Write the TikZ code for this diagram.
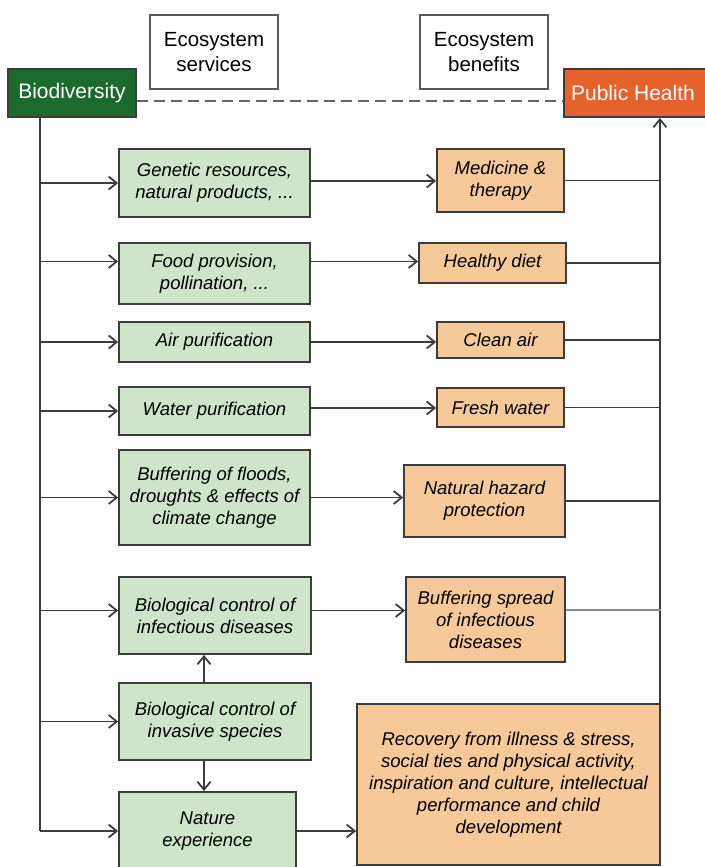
\documentclass[tikz,border=0pt]{standalone}
\usepackage{fontspec}
\setmainfont{Liberation Sans}
\usetikzlibrary{arrows.meta}
\definecolor{gfill}{HTML}{CFE5C9}
\definecolor{ofill}{HTML}{F6C999}
\definecolor{dgreen}{HTML}{1C6B2E}
\definecolor{porange}{HTML}{E5622B}
\definecolor{lcol}{HTML}{3C3C3C}
\tikzset{
  box/.style={draw=lcol, line width=1.8pt, inner sep=0pt, align=center,
    font=\fontsize{18.5}{22}\selectfont\itshape},
  gbox/.style={box, fill=gfill},
  obox/.style={box, fill=ofill},
  hbox/.style={draw=black!65, line width=1.4pt, fill=white, inner sep=0pt, align=center,
    font=\fontsize{20.5}{25}\selectfont},
  mainbox/.style={draw=lcol, line width=1.8pt, inner sep=0pt, align=center, text=white,
    font=\fontsize{21}{25}\selectfont},
  conn/.style={draw=lcol, line width=1.8pt},
  arr/.style={conn, -{Straight Barb[length=8pt,width=13pt,line width=1.8pt]}},
}
\begin{document}
\begin{tikzpicture}[x=1pt,y=-1pt]
\useasboundingbox (0,0) rectangle (704,867);
% header
\node[mainbox, fill=dgreen, minimum width=128pt, minimum height=48pt] (bio) at (72,93) {Biodiversity};
\node[mainbox, fill=porange, minimum width=144pt, minimum height=48pt] (ph) at (636,93) {\hspace*{-6pt}Public Health};
\node[hbox, minimum width=128pt, minimum height=74pt] (es) at (214,52) {Ecosystem\\services};
\node[hbox, minimum width=128pt, minimum height=74pt] (eb) at (484,52) {Ecosystem\\benefits};
% services
\node[gbox, minimum width=191pt, minimum height=68pt] (g1) at (214.5,183) {Genetic resources,\\natural products, ...};
\node[gbox, minimum width=191pt, minimum height=61pt] (g2) at (214.5,273.5) {Food provision,\\pollination, ...};
\node[gbox, minimum width=191pt, minimum height=40pt] (g3) at (214.5,342) {Air purification};
\node[gbox, minimum width=191pt, minimum height=48pt] (g4) at (214.5,411) {Water purification};
\node[gbox, minimum width=191pt, minimum height=95pt] (g5) at (214.5,497.5) {Buffering of floods,\\droughts \& effects of\\climate change};
\node[gbox, minimum width=192pt, minimum height=77pt] (g6) at (215,615.5) {Biological control of\\infectious diseases};
\node[gbox, minimum width=192pt, minimum height=77pt] (g7) at (215,721.5) {Biological control of\\invasive species};
\node[gbox, minimum width=177pt, minimum height=78pt] (g8) at (207.5,831) {Nature\\experience};
% benefits
\node[obox, minimum width=127pt, minimum height=63pt] (o1) at (500.5,180.5) {Medicine \&\\therapy};
\node[obox, minimum width=147pt, minimum height=40pt] (o2) at (492.5,263) {Healthy diet};
\node[obox, minimum width=127pt, minimum height=36pt] (o3) at (500.5,340) {Clean air};
\node[obox, minimum width=127pt, minimum height=39pt] (o4) at (500.5,407.5) {Fresh water};
\node[obox, minimum width=161pt, minimum height=72pt] (o5) at (484.5,501) {Natural hazard\\protection};
\node[obox, minimum width=159pt, minimum height=85pt] (o6) at (485.5,619.5) {Buffering spread\\of infectious\\diseases};
\node[obox, minimum width=303pt, minimum height=161pt] (rec) at (508.5,784.5) {Recovery from illness \& stress,\\social ties and physical activity,\\inspiration and culture, intellectual\\performance and child\\development};
% dashed link
\draw[draw=black!60, line width=2.6pt, dash pattern=on 11pt off 6pt] ([yshift=-8pt]bio.east) -- ([yshift=-8pt]ph.west);
% left trunk
\coordinate (tl) at (40,831);
\draw[conn] (bio.south -| tl) -- (tl);
\draw[arr] (tl) -- (g8.west);
\foreach \n in {g1,g3,g4,g5,g7}{
  \draw[arr] (\n.west -| tl) -- (\n.west);
}
\draw[arr] ([yshift=12pt]g2.west -| tl) -- ([yshift=12pt]g2.west);
\draw[arr] ([yshift=5pt]g6.west -| tl) -- ([yshift=5pt]g6.west);
% service -> benefit
\draw[arr] ([yshift=2pt]g1.east) -- ([yshift=2pt]g1.east -| o1.west);
\draw[arr] ([yshift=12pt]g2.east) -- ([yshift=12pt]g2.east -| o2.west);
\draw[arr] (g3.east) -- (g3.east -| o3.west);
\draw[arr] ([yshift=3pt]g4.east) -- ([yshift=3pt]g4.east -| o4.west);
\draw[arr] (g5.east) -- (g5.east -| o5.west);
\draw[arr] ([yshift=5pt]g6.east) -- ([yshift=5pt]g6.east -| o6.west);
\draw[arr] (g8.east) -- (g8.east -| rec.west);
% vertical between services
\draw[arr] ([xshift=-11pt]g7.north) -- ([xshift=-11pt]g6.south);
\draw[arr] ([xshift=-11pt]g7.south) -- ([xshift=-11pt]g7.south |- g8.north);
% right trunk
\draw[arr] ([xshift=-1pt]rec.north east) -- ([xshift=-1pt]rec.north east |- ph.south);
\foreach \n in {o1,o2,o3,o4,o5}{
  \draw[conn] (\n.east) -- (\n.east -| rec.north east);
}
\draw[conn, draw=black!45] ([yshift=9.5pt]o6.east) -- ([yshift=9.5pt]o6.east -| rec.north east);
\end{tikzpicture}
\end{document}
